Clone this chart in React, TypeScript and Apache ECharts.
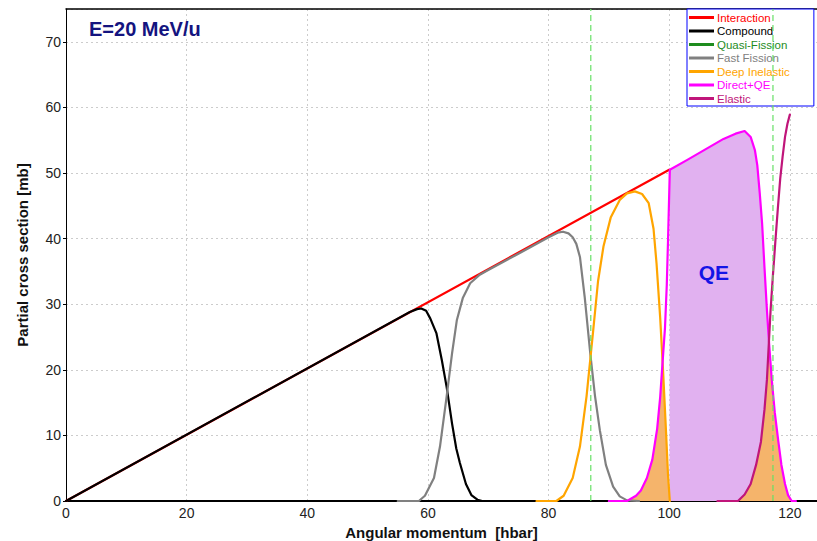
import React, { useEffect, useRef } from "react";
import * as echarts from "echarts";

// ---- data (x = angular momentum [hbar], y = partial cross section [mb]) ----
const interactionPts: number[][] = [[0, 0], [100, 50.5]];
const compoundPts: number[][] = [
  [0, 0], [57, 28.8], [58.2, 29.25], [58.9, 29.35], [59.7, 29.0], [60.4, 27.8], [61.4, 25.6],
  [62.3, 21.5], [63.1, 17.4], [64, 11.8], [64.7, 8], [65.3, 5.8], [66.3, 2.6], [67.2, 0.9],
  [68.2, 0.2], [69, 0], [72, 0],
];
const quasiFissionPts: number[][] = [];
const fastFissionPts: number[][] = [
  [55, 0], [58.5, 0], [59.5, 0.8], [61, 3.5], [62, 8.3], [63.1, 15.9], [64, 22.5], [64.8, 27.6],
  [65.8, 31], [67, 33.2], [68.6, 34.5], [70, 35.2], [75, 37.7], [80, 40.2], [81.5, 40.9],
  [82.4, 41.05], [83.3, 40.8], [84, 40.2], [84.6, 39.2], [85.2, 37.2], [86, 31], [86.9, 22.6],
  [87.7, 16], [88.5, 10.8], [89.5, 5.5], [90.7, 2.2], [91.8, 0.7], [93, 0.1], [95, 0],
];
const deepInelasticPts: number[][] = [
  [78, 0], [81.3, 0], [82.5, 0.8], [84, 3.5], [85.2, 8.3], [86.3, 16], [87.4, 26], [88.2, 33.5],
  [89.1, 38.8], [90.3, 43.2], [91.8, 45.9], [93, 46.9], [94.3, 47.2], [95.5, 46.8], [96.6, 45.4],
  [97.4, 41.5], [97.9, 36.2], [98.5, 28], [99, 19.5], [99.5, 10], [99.8, 4], [100.1, 0],
];
const directQEPts: number[][] = [
  [90, 0], [93, 0], [94.5, 0.8], [95.3, 1.6], [96.3, 3.5], [97.2, 6.3], [98, 11], [98.5, 15.8],
  [99, 22.5], [99.3, 26.4], [99.6, 33], [99.8, 39.6], [100.1, 50.5], [103, 52], [106, 53.6],
  [109, 55.2], [111, 56], [112.5, 56.4], [113.5, 55.5], [114.2, 53.5], [114.6, 51.2], [115, 47],
  [115.4, 42.3], [115.8, 35.5], [116.2, 29.1], [116.6, 23.5], [117, 18.5], [117.5, 13.5],
  [118.1, 9], [118.6, 5.5], [119.2, 2.6], [119.7, 0.9], [120.3, 0], [121, 0],
];
const elasticPts: number[][] = [
  [108, 0], [111.4, 0], [112.5, 1], [113.5, 2.6], [114.4, 5.5], [115.2, 9], [115.8, 14],
  [116.2, 18.5], [116.8, 29], [117.2, 34.5], [117.6, 39.6], [118, 44.5], [118.4, 49.1],
  [118.8, 52.5], [119.2, 55.5], [119.6, 57.5], [120, 58.9],
];
// shaded regions
const qeFillPts: number[][] = [
  [100.05, 0], [100.1, 50.5], [103, 52], [106, 53.6], [109, 55.2], [111, 56], [112.5, 56.4],
  [113.5, 55.5], [114.2, 53.5], [114.6, 51.2], [115, 47], [115.4, 42.3], [115.8, 35.5],
  [116.2, 29.1], [116.6, 23.5], [117, 18.5], [117.5, 13.5], [118.1, 9], [118.6, 5.5],
  [119.2, 2.6], [119.7, 0.9], [120.3, 0],
];
const overlapLeftPts: number[][] = [
  [93, 0], [94.5, 0.8], [95.3, 1.6], [96.3, 3.5], [97.2, 6.3], [98, 11], [98.5, 15.8],
  [99, 21], [99.5, 10], [99.8, 4], [100.1, 0],
];
const overlapRightPts: number[][] = [
  [111.4, 0], [112.5, 1], [113.5, 2.6], [114.4, 5.5], [115.2, 9], [115.8, 14], [116.2, 18.5],
  [116.5, 23.5], [116.7, 21], [117, 18.5], [117.5, 13.5], [118.1, 9], [118.6, 5.5],
  [119.2, 2.6], [119.7, 0.9], [120.3, 0],
];
const dashedMarkersX: number[] = [87, 117.2];
const yExtent: number[] = [0, 75];
const qeLabelPos: number[] = [107.4, 34.9];

const seriesNames = ["Interaction", "Compound", "Quasi-Fission", "Fast Fission", "Deep Inelastic", "Direct+QE", "Elastic"];
const seriesColors = ["#ff0000", "#000000", "#1e8c1e", "#808080", "#ffa500", "#ff00ff", "#c0157a"];
const seriesData = [interactionPts, compoundPts, quasiFissionPts, fastFissionPts, deepInelasticPts, directQEPts, elasticPts];

export default function App() {
  const ref = useRef<HTMLDivElement>(null);
  useEffect(() => {
    if (!ref.current) return;
    const chart = echarts.init(ref.current, undefined, { renderer: "svg" });
    const font = "'Liberation Sans', Arial, sans-serif";
    const lineSeries = seriesNames.map((name, i) => ({
      name,
      type: "line",
      data: seriesData[i],
      showSymbol: false,
      symbol: "none",
      color: seriesColors[i],
      lineStyle: { color: seriesColors[i], width: 2.2, join: "round", cap: "round" },
      z: 5 + i,
    }));
    const fillSeries = [
      {
        name: "qeFill", type: "line", data: qeFillPts, symbol: "none",
        lineStyle: { width: 0 }, areaStyle: { color: "#e1b1f0", opacity: 1 }, z: 2,
        markPoint: {
          symbol: "circle", symbolSize: 1, itemStyle: { color: "rgba(0,0,0,0)" },
          label: { show: true, formatter: "QE", color: "#1414e6", fontSize: 21, fontWeight: "bold", fontFamily: font, position: "inside" },
          data: [{ coord: qeLabelPos }],
        },
      },
      { name: "ovL", type: "line", data: overlapLeftPts, symbol: "none", lineStyle: { width: 0 }, areaStyle: { color: "#f5b46b", opacity: 1 }, z: 3 },
      { name: "ovR", type: "line", data: overlapRightPts, symbol: "none", lineStyle: { width: 0 }, areaStyle: { color: "#f5b46b", opacity: 1 }, z: 3 },
    ];
    const markerSeries = dashedMarkersX.map((x, k) => ({
      name: "marker" + k, type: "line", symbol: "none", z: 30,
      data: yExtent.map((y) => [x, y]),
      lineStyle: { color: "#66e066", type: [6, 4], width: 1.2 },
      color: "#66e066",
    }));
    const grid = { color: "#cccccc", type: [2, 3], width: 1 };
    chart.setOption({
      animation: false,
      backgroundColor: "#ffffff",
      textStyle: { fontFamily: font },
      title: {
        text: "E=20 MeV/u", left: 84, top: 14,
        textStyle: { color: "#14147f", fontSize: 20, fontWeight: "bold", fontFamily: font },
      },
      legend: {
        orient: "vertical", left: 687, top: 9,
        backgroundColor: "#ffffff", borderColor: "#0000ff", borderWidth: 1,
        padding: [2, 24, 1, 2], itemGap: 0.5, itemWidth: 25, itemHeight: 3, icon: "rect",
        textStyle: { fontSize: 11.5, lineHeight: 13, fontFamily: font, padding: [0, 0, 0, -2] },
        data: seriesNames.map((n, i) => ({ name: n, textStyle: { color: seriesColors[i] } })),
      },
      grid: { left: 66, right: 0, top: 9, bottom: 40, outerBoundsMode: "none", containLabel: false },
      xAxis: [
        {
          type: "value", min: 0, max: 124.5, interval: 20,
          name: "Angular momentum  [hbar]", nameLocation: "middle", nameGap: 17,
          nameTextStyle: { fontSize: 15, fontWeight: "bold", color: "#111", fontFamily: font },
          axisLine: { show: true, lineStyle: { color: "#000", width: 2 } },
          axisTick: { show: false },
          axisLabel: { fontSize: 14, color: "#222", margin: 5, fontFamily: font, showMaxLabel: false },
          splitLine: { show: true, lineStyle: grid },
        },
        {
          type: "value", position: "top", min: 0, max: 124.5, interval: 20,
          axisLine: { show: true, onZero: false, lineStyle: { color: "#000", width: 1.5 } },
          axisTick: { show: false }, axisLabel: { show: false }, splitLine: { show: false },
        },
      ],
      yAxis: {
        type: "value", min: 0, max: 75, interval: 10,
        name: "Partial cross section [mb]", nameLocation: "middle", nameGap: 36,
        nameTextStyle: { fontSize: 15, fontWeight: "bold", color: "#111", fontFamily: font },
        axisLine: { show: true, lineStyle: { color: "#000", width: 1 } },
        axisTick: { show: true, length: 3, lineStyle: { color: "#000" } },
        axisLabel: { fontSize: 14, color: "#222", margin: 5, fontFamily: font, showMaxLabel: false },
        splitLine: { show: true, lineStyle: grid },
      },
      series: [...fillSeries, ...lineSeries, ...markerSeries],
    });
    return () => chart.dispose();
  }, []);
  return <div ref={ref} style={{ position: "fixed", left: 0, top: 0, width: 817, height: 541, background: "#fff" }} />;
}
